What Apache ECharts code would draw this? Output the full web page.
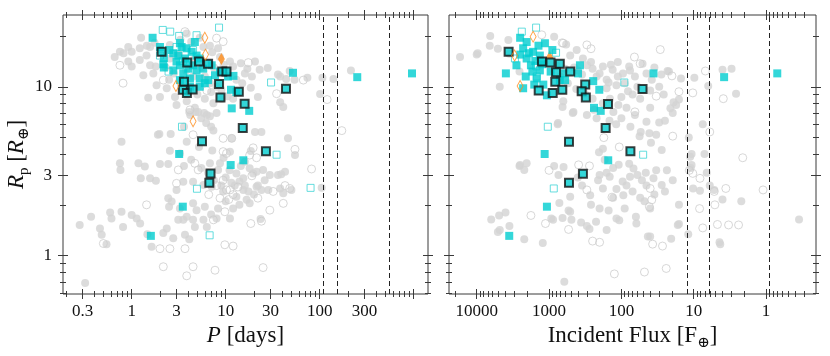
<!DOCTYPE html>
<html>
<head>
<meta charset="utf-8">
<script src="https://cdn.jsdelivr.net/npm/echarts@6/dist/echarts.min.js"></script>
<style>
  html, body { margin: 0; background: #fff; }
  #chart { width: 830px; height: 356px; }
</style>
</head>
<body>
<div id="chart"></div>
<script>
// ---- axis ranges and ticks ----
const periodRange = [0.186, 1420];
const fluxRange = [0.204, 24150];
const radiusRange = [0.593, 26.6];

const periodLabels = [0.3, 1, 3, 10, 30, 100, 300];
const periodMajor = [0.3, 1, 3, 10, 30, 100, 300, 1000];
const periodMinor = [0.2, 0.4, 0.5, 0.6, 0.7, 0.8, 0.9, 2, 4, 5, 6, 7, 8, 9,
  20, 40, 50, 60, 70, 80, 90, 200, 400, 500, 600, 700, 800, 900];
const fluxLabels = [10000, 1000, 100, 10, 1];
const fluxMajor = [10000, 1000, 100, 10, 1];
const fluxMinor = [20000, 9000, 8000, 7000, 6000, 5000, 4000, 3000, 2000,
  900, 800, 700, 600, 500, 400, 300, 200, 90, 80, 70, 60, 50, 40, 30, 20,
  9, 8, 7, 6, 5, 4, 3, 2, 0.9, 0.8, 0.7, 0.6, 0.5, 0.4, 0.3];
const radiusLabels = [1, 3, 10];
const radiusMajor = [1, 3, 10];
const radiusMinor = [0.6, 0.7, 0.8, 0.9, 2, 4, 5, 6, 7, 8, 9, 20];

// dashed reference lines
const periodLines = [109, 155, 550];
const fluxLines = [12.3, 6.1, 0.91];

// ---- left panel: [P days, Rp] ----
const periodGrayFilled = [
  [0.82,15.8],[1.45,17.5],[1.75,18.2],[1.0,13.2],[1.8,13.2],[1.5,8.6],[2.5,11],[3.85,20.7],
  [1.26,19.5],[0.92,17.2],[0.75,16.1],[0.66,15],[1.0,16.1],[1.22,16.9],[1.57,17.2],[1.44,15.3],
  [1.22,14.4],[0.92,14.1],[1.57,13.4],[1.33,11.7],[1.7,12],[1.84,10.2],[2.36,9.8],[2.0,8.7],
  [2.89,8.7],[3.0,7.8],[3.85,8.2],[5.1,7.1],[6.3,6.8],[7.4,8.0],[9.1,8.5],[2.55,14.7],[2.55,17.7],
  [5.8,17.2],[8.3,16.9],[11.1,14.1],
  [3.3,19],[4.3,18.5],[5.3,19.5],[6.8,17.5],[7.2,16],[8.7,15],[9.5,13.5],[10.5,12.5],[12,13.2],
  [14.5,13.8],[17,12.8],[13,11],[15,10.5],[16,12],[19,11.5],[7.5,13],[6,11.5],[4.5,11.5],[3.8,12.5],
  [2.8,12],[2.3,13],[3.2,15.5],[4.6,14.5],[5.6,13],[6.8,10.5],[8,10],[9,9.6],[10.5,8.8],[12,8.5],
  [5,9],[6,8.5],[7,9.3],[4.2,9.5],[4.7,7.5],[5.5,6.5],[4.2,6.8],[8,7],[6.2,6.1],[7,5.8],
  [20.5,14.1],[28,12.9],[48,12.4],[74,11.3],[107,11.3],[140,11.1],[215,12.5],[38,11.5],[101,9.05],
  [18.5,9.86],[22,8.7],[38,8.1],[41,7.6],[23,12.6],[36,11.8],[44,11.1],[54,11.0],
  [4.1,7.1],[4.8,7.1],[5.9,7.0],[6.8,6.7],[3.6,5.8],[1.9,5.2],
  [1.97,5.25],[2.6,5.25],[0.78,4.73],[3.85,4.73],[7.4,5.5],[11.6,4.95],[20.5,5.4],[24,5.4],[46,4.95],
  [2.55,4.18],[3.26,4.03],[11.1,4.13],[0.75,3.52],[0.76,3.22],[1.18,3.52],[1.38,3.37],[2.0,3.49],
  [2.45,3.49],[1.57,2.87],[1.81,2.78],[1.25,2.87],[6.8,3.52],[8.7,3.52],[8.3,3.22],[13,3.07],
  [18,3.29],[19.6,3.07],[25,3.22],[29.5,3.0],[36,3.0],[26,2.8],[21.3,2.56],[28.4,2.45],[38,2.5],
  [41,2.34],[15.4,2.45],[13,2.23],[16.7,2.14],[18,2.04],[9.4,2.4],[7.1,2.56],[5.8,2.62],[4.5,2.74],
  [3.54,2.74],[3.0,2.45],[2.45,2.19],[2.66,2.09],[2.5,1.95],[3.26,1.9],[4.5,2.04],[4.9,1.86],
  [6.0,1.95],[3.85,1.7],[3.54,1.63],[3.13,1.63],[4.5,1.63],[5.8,1.63],[6.3,1.48],[4.7,1.48],
  [8.0,1.66],[11.1,1.66],[2.36,1.45],[2.17,1.36],[2.77,1.27],[3.69,1.33],[23.5,1.65],
  [0.28,1.52],[0.37,1.7],[0.46,1.45],[0.48,1.33],[0.54,1.17],[0.59,1.8],[0.78,1.82],[0.81,1.48],
  [1.0,1.74],[1.13,1.66],[1.47,1.34],[1.23,1.55],[0.61,1.66],[0.32,0.69],
  [54.6,3.94],[105,2.52],[50,2.45],[39,3.03],[21.3,3.14],[15.4,2.87],[18.5,4.16],[42.8,3.14],
  [10,2.9],[11.5,2.7],[12.5,2.6],[14,2.75],[9,2.6],[7.5,2.8],[6.5,3.1],[5.5,3.3],[16,2.6],
  [17.5,2.4],[20,2.3],[22,2.6],[24,2.45],[11,3.2],[14.5,3.4],[16,3.6],[9.5,3.8],[7.2,4.2],
  [5.2,4.4],[4.3,3.7],[3.6,3.4],[12,1.9],[14,2.0],[10,2.1],[8.3,1.9],[7,1.75],[1.63,1.13],[4.1,1.25]
];
const periodGrayOpen = [
  [0.75,13.4],[0.81,10.5],[2.17,10.95],[6.3,9.5],[8.0,19.4],[17.4,13.9],[34.8,9.1],[67,10.95],
  [120,8.4],[172,5.5],[3.69,21.2],[9.4,18.5],[4.17,7.3],[4.5,5.2],[9.4,4.95],[18,3.94],[9.4,4.13],
  [4.7,3.52],[3.13,3.22],[3.0,2.68],[9.4,2.8],[10.2,2.45],[8.7,2.19],[29.5,1.86],[22,2.19],[41,2.04],
  [1.44,2.0],[7.4,1.63],[2.0,1.1],[2.55,1.1],[3.69,1.1],[9.8,1.16],[12,1.14],[2.17,0.86],[4.5,0.86],
  [3.85,0.76],[7.7,0.82],[25,0.85],[0.5,1.18],[11.6,4.95],[19.6,4.35],[54.6,4.26],[82,3.26],
  [42.8,2.6],[48,2.5],[32,2.4],[18.5,1.55],[24,1.6],[9.8,1.82],[21.3,3.8],[19,2.97],[11.1,2.45],
  [5.1,3.22],[10.2,4.03],[8.0,2.6],[12,2.3],[13.5,2.55],[6.6,2.3],[10.8,2.15]
];
const periodCyanFilled = [
  [1.67,19.5],[2.0,17.2],[2.17,13.6],[3.26,18.1],[4.7,18.4],[4.35,16.1],[2.77,15.8],[3.0,14.1],
  [4.5,13.4],[2.77,12.5],[3.54,12],[4.17,11.2],[5.3,11.2],[5.77,12.8],[7.1,13.4],[7.7,11.7],
  [6.5,10.95],[10.6,11.5],[12.1,11.6],[13,9.3],[3.4,17.2],[3.84,16.9],[3.13,15.3],[3.69,14.7],
  [4.9,15.3],[5.3,14.7],[3.26,13.4],[4.0,12.8],[4.9,12.5],[3.26,10.95],[4.17,10],[5.3,10],[6.0,10.5],
  [8.7,12.3],[2.2,14.8],[2.5,16.5],[2.2,13.0],
  [52,12.1],[251,11.4],[960,12],[11.4,9.6],[11.6,7.45],[17.8,7.2],[3.2,4.0],[11.3,3.44],[15.4,3.67],
  [3.5,1.95],[1.6,1.31]
];
const periodCyanOpen = [
  [2.14,21.7],[2.57,21.2],[8.5,22.4],[3.2,20],[4.9,20.2],[30.4,10.6],[3.43,5.8],[34.8,3.96],
  [4.95,2.49],[80,2.52],[6.75,1.32],[2.47,12.3],[2.0,15.3],[4.5,16.5],[3.0,17.2],[3.5,14.2]
];
const periodCyanRing = [
  [2.08,16.1],[3.9,13.9],[5.2,14.1],[6.5,13.7],[9.2,12.3],[10.2,12.3],[3.6,10.7],[8.5,10.4],
  [3.5,9.6],[3.87,9.2],[4.45,9.65],[13.8,9.35],[8.8,8.65],[15.9,7.93],[15.2,5.7],[43.8,9.73],
  [5.6,4.75],[26.8,4.15],[6.9,3.07],[6.7,2.7]
];
const periodOrangeOpen = [[6.0,19.5],[6.1,15.5],[2.96,10.1],[4.5,6.25]];
const periodOrangeFilled = [[9.0,14.6]];

// ---- right panel: [incident flux, Rp] ----
const fluxGrayFilled = [
  [17000,15],[9700,15.8],[6500,20],[6600,17.5],[5100,16.8],[3530,15.7],[2560,12.3],[850,19.8],
  [580,17.8],[340,14.7],[263,14],[180,13.2],[132,12.6],[112,14],[78,13.2],[51,13.7],[28,11.8],
  [23,12.4],[15,11.2],[9.8,11.3],[4.0,12.6],[3.0,12.8],[2.6,9.1],[112,11.5],[81,9.4],[17.5,7.8],
  [16,8.4],[19.5,7],[7.5,6],[7.1,4.0],[10.7,4.0],[11.7,5],[56,5.1],[41,5.3],[33,5.2],[129,7.1],
  [146,6.3],[118,6.0],[470,7.0],[650,7.6],[760,6.0],[204,4.1],[109,3.45],[78,3.5],[46,3.1],
  [33,3.2],[23.5,3.2],[19.5,2.8],[11,3.3],[6.6,3.1],[10.2,2.5],[5.2,2.45],[4.0,2.15],[2.2,2.1],
  [16,2.0],[48,2.1],[2560,3.4],[850,3.4],[630,3.35],[740,3.0],[200,3.0],[96,2.75],[720,2.05],
  [537,1.85],[263,2.0],[6300,1.64],[4900,1.73],[4000,1.8],[5100,1.38],[3530,1.5],[2200,1.25],
  [1220,1.19],[930,1.66],[650,1.67],[360,1.57],[276,1.44],[224,1.59],[107,1.62],[63,1.7],
  [16.6,1.52],[43,1.3],[20.5,1.26],[4.4,1.2],[615,0.7],[0.35,1.64],
  [76,12.5],[22,12.3],[6.3,10.1],[19,8.1],[21,7.45],[30,6.15],[54,5.4],[39,4.66],[27.7,4.22],
  [11.2,3.85],[10.7,3.44],[6.0,2.6],[8.2,2.42],[4.3,1.17],[11.9,1.34],[16,1.54],[40,1.3],
  [27.7,2.62],[36,2.87],[68,3.28],[117,2.48],
  [750,6.1],[2510,3.44],[2040,3.52],[2200,3.22],[210,2.8],[145,2.93],[76,2.93],[52,2.8],[94,2.28],
  [270,2.28],[510,2.23],[510,1.82],[490,1.63],[880,1.63],[300,1.5],[160,1.42],[117,1.66],[62,1.55],
  [4800,1.42],
  [10000,15.5],[3650,18.9],[4800,10],[415,16.5],[300,13.4],[200,12],[117,10.2],[790,13.4],
  [510,15.3],[635,8.2],[460,7.1],[220,6.5],[320,9.1],[110,7.8],[144,8.5],
  [450,13],[400,12.5],[350,11.8],[250,12.8],[220,11.5],[160,11],[140,13.5],[95,12],[65,11.5],
  [45,12],[38,11],[60,10],[90,10.5],[70,9],[55,8.5],[40,9.5],[100,8.7],[85,7.5],[160,9.8],[180,8],
  [250,8.5],[150,10.6],[30,10],[40,7.5],[26,9],[35,13],[700,11.5],[550,10.5],[420,9.7],[600,12.8],
  [240,7.3],[300,6.8],[100,6.5],[65,6.8],[75,5.8],[45,6.2],[25,6.3],
  [180,4.3],[170,3.7],[60,3.0],[45,2.6],[85,2.6],[130,3.3],[160,3.1],[70,2.4],[55,2.2],[35,2.3],
  [25,2.4],[130,2.2],[180,2.5],[350,2.6],[400,2.9],[90,1.9],[150,1.85],[200,1.9],[40,1.9]
];
const fluxGrayOpen = [
  [1260,20.3],[660,18.2],[263,16.8],[29,16.6],[66,15],[6.9,12.4],[10.3,9.2],[6.0,5.4],[3.9,8.5],
  [33,8.8],[19.5,5.1],[175,5.0],[107,4.4],[276,3.4],[390,3.45],[1000,3.2],[11.5,3.2],[5.2,2.4],
  [3.6,2.5],[1.1,2.45],[2.1,3.8],[135,2.22],[41,1.95],[8.3,1.9],[4.7,1.53],[3.3,1.52],[2.4,1.52],
  [7.5,1.46],[1780,1.73],[1120,1.55],[537,1.43],[250,1.22],[200,1.2],[27,1.14],[125,0.78],[48,0.8],
  [24,0.84],[20,11.6],[16,9.35],[10.3,3.07],[8.2,2.87],[5.1,2.0],[40,2.5],[37,1.17],[300,2.45],
  [38,2.14],[635,18.1],[300,17.7],[55,13.7],[65,7.1]
];
const fluxCyanFilled = [
  [3950,12],[2510,19.5],[2040,18.4],[1140,18.1],[2280,16.9],[1660,16.1],[1340,15.3],[2040,14.7],
  [1780,13.4],[2820,13.4],[1340,12.5],[1480,11.2],[1200,10.3],[2280,9.8],[1070,8.9],[635,12],
  [710,10.95],[374,13.4],[398,12],[245,10.8],[202,9.6],[600,10.95],[1900,15.8],[1550,14.2],
  [2500,15.5],[1250,13.6],[1700,12.3],[2100,11.5],[950,12.3],[1600,10.3],[900,16.5],[1400,17.5],
  [239,7.5],[193,7.2],[36,12],[3.8,11.4],[0.7,12],[1150,4.0],[152,3.67],[1070,1.95],[3550,1.31]
];
const fluxCyanOpen = [
  [2380,21.2],[1510,22.4],[2960,14.7],[800,15.9],[1480,11.5],[91,10.6],[1040,5.8],[50,3.96],
  [860,2.5],[1500,13.2]
];
const fluxCyanRing = [
  [3620,16.1],[1254,14.1],[955,13.9],[710,13.7],[800,12.2],[510,12.3],[820,10.7],[316,10.3],
  [1390,9.5],[890,9.2],[656,9.6],[354,9.4],[310,8.65],[153,7.9],[51,9.7],[165,5.7],[530,4.73],
  [75,4.15],[340,3.06],[530,2.7]
];
const fluxOrangeOpen = [[1660,19.8],[2990,15.3],[2510,10.1]];
const fluxOrangeFilled = [[980,15.5]];

// ---- chart ----
const serif = "'Liberation Serif', 'DejaVu Serif', serif";
const ink = '#3a3a3a';
const gray = '#d3d3d3';
const cyan = '#00cdd0';
const orange = '#ff8c1a';

const chart = echarts.init(document.getElementById('chart'));

const nameRich = {
  i: { fontStyle: 'italic', fontFamily: serif, fontSize: 23, color: '#111', lineHeight: 23, verticalAlign: 'top' },
  n: { fontFamily: serif, fontSize: 23, color: '#111', lineHeight: 23, verticalAlign: 'top' },
  s: { fontFamily: serif, fontSize: 15, color: '#111', lineHeight: 15, verticalAlign: 'top', padding: [11, 0, 0, 0] }
};

function tickAxis(gridIndex, position, range, ticks, long, inverse, extra) {
  return Object.assign({
    gridIndex: gridIndex,
    type: 'log',
    logBase: 10,
    position: position,
    min: range[0],
    max: range[1],
    inverse: !!inverse,
    offset: long ? 5 : 3,
    axisLine: { show: false, onZero: false },
    splitLine: { show: false },
    axisTick: { show: true, inside: true, length: long ? 10 : 6, customValues: ticks,
                lineStyle: { color: ink, width: 1 } },
    axisLabel: { show: false }
  }, extra || {});
}

function labels(values, margin) {
  return {
    show: true, customValues: values, margin: margin,
    fontFamily: serif, fontSize: 17, color: '#111',
    formatter: v => String(+Number(v).toPrecision(6))
  };
}

const xAxes = [], yAxes = [];
[
  { range: periodRange, major: periodMajor, minor: periodMinor, lab: periodLabels, inv: false,
    name: '{i|P}{n| [days]}' },
  { range: fluxRange, major: fluxMajor, minor: fluxMinor, lab: fluxLabels, inv: true,
    name: '{n|Incident Flux [F}{s|⊕}{n|]}' }
].forEach((p, g) => {
  xAxes.push(tickAxis(g, 'bottom', p.range, p.major, true, p.inv, {
    axisLabel: labels(p.lab, 4),
    name: p.name, nameLocation: 'middle', nameGap: 22,
    nameTextStyle: { fontFamily: serif, fontSize: 23, color: '#111', rich: nameRich }
  }));
  xAxes.push(tickAxis(g, 'bottom', p.range, p.minor, false, p.inv));
  xAxes.push(tickAxis(g, 'top', p.range, p.major, true, p.inv));
  xAxes.push(tickAxis(g, 'top', p.range, p.minor, false, p.inv));

  const left = g === 0 ? {
    axisLabel: labels(radiusLabels, 6),
    name: '{i|R}{s|p}{n| [}{i|R}{s|⊕}{n|]}', nameLocation: 'middle', nameGap: 25, nameRotate: 90,
    nameTextStyle: { fontFamily: serif, fontSize: 23, color: '#111', rich: nameRich }
  } : {};
  yAxes.push(tickAxis(g, 'left', radiusRange, radiusMajor, true, false, left));
  yAxes.push(tickAxis(g, 'left', radiusRange, radiusMinor, false, false));
  yAxes.push(tickAxis(g, 'right', radiusRange, radiusMajor, true, false));
  yAxes.push(tickAxis(g, 'right', radiusRange, radiusMinor, false, false));
});

function dots(g, data, style) {
  return Object.assign({
    type: 'scatter', xAxisIndex: g * 4, yAxisIndex: g * 4, data: data,
    silent: true, animation: false
  }, style);
}

function dashes(values) {
  return {
    silent: true, animation: false, symbol: ['none', 'none'],
    label: { show: false },
    lineStyle: { color: '#222', type: [5, 3], width: 1 },
    data: values.map(v => ({ xAxis: v }))
  };
}

const filledGray = { symbol: 'circle', symbolSize: 8, itemStyle: { color: gray } };
const openGray = { symbol: 'circle', symbolSize: 8,
  itemStyle: { color: 'rgba(255,255,255,0)', borderColor: '#cdcdcd', borderWidth: 1 } };
const filledCyan = { symbol: 'rect', symbolSize: 8, itemStyle: { color: cyan } };
const openCyan = { symbol: 'rect', symbolSize: 7,
  itemStyle: { color: 'rgba(255,255,255,0)', borderColor: '#3fd4d6', borderWidth: 1 } };
const ringCyan = { symbol: 'rect', symbolSize: 8,
  itemStyle: { color: cyan, borderColor: '#111', borderWidth: 2 } };
const openOrange = { symbol: 'diamond', symbolSize: [6, 11],
  itemStyle: { color: 'rgba(255,255,255,0)', borderColor: orange, borderWidth: 1 } };

const series = [
  dots(0, periodGrayFilled, Object.assign({ markLine: dashes(periodLines) }, filledGray)),
  dots(0, periodGrayOpen, openGray),
  dots(0, periodCyanOpen, openCyan),
  dots(0, periodCyanFilled, filledCyan),
  dots(0, periodCyanRing, ringCyan),
  dots(0, periodOrangeOpen, openOrange),
  dots(0, periodOrangeFilled, { symbol: 'diamond', symbolSize: [7, 12], itemStyle: { color: orange } }),

  dots(1, fluxGrayFilled, Object.assign({ markLine: dashes(fluxLines) }, filledGray)),
  dots(1, fluxGrayOpen, openGray),
  dots(1, fluxCyanOpen, openCyan),
  dots(1, fluxOrangeFilled, { symbol: 'triangle', symbolSize: 8, itemStyle: { color: orange } }),
  dots(1, fluxCyanFilled, filledCyan),
  dots(1, fluxCyanRing, ringCyan),
  dots(1, fluxOrangeOpen, openOrange)
];

chart.setOption({
  animation: false,
  backgroundColor: '#fff',
  textStyle: { fontFamily: serif },
  grid: [
    { left: 63, top: 15, width: 365, height: 279, show: true, borderColor: ink, borderWidth: 1,
      backgroundColor: 'rgba(0,0,0,0)', containLabel: false, outerBoundsMode: 'none' },
    { left: 449, top: 15, width: 367, height: 279, show: true, borderColor: ink, borderWidth: 1,
      backgroundColor: 'rgba(0,0,0,0)', containLabel: false, outerBoundsMode: 'none' }
  ],
  xAxis: xAxes,
  yAxis: yAxes,
  series: series
});
</script>
</body>
</html>
